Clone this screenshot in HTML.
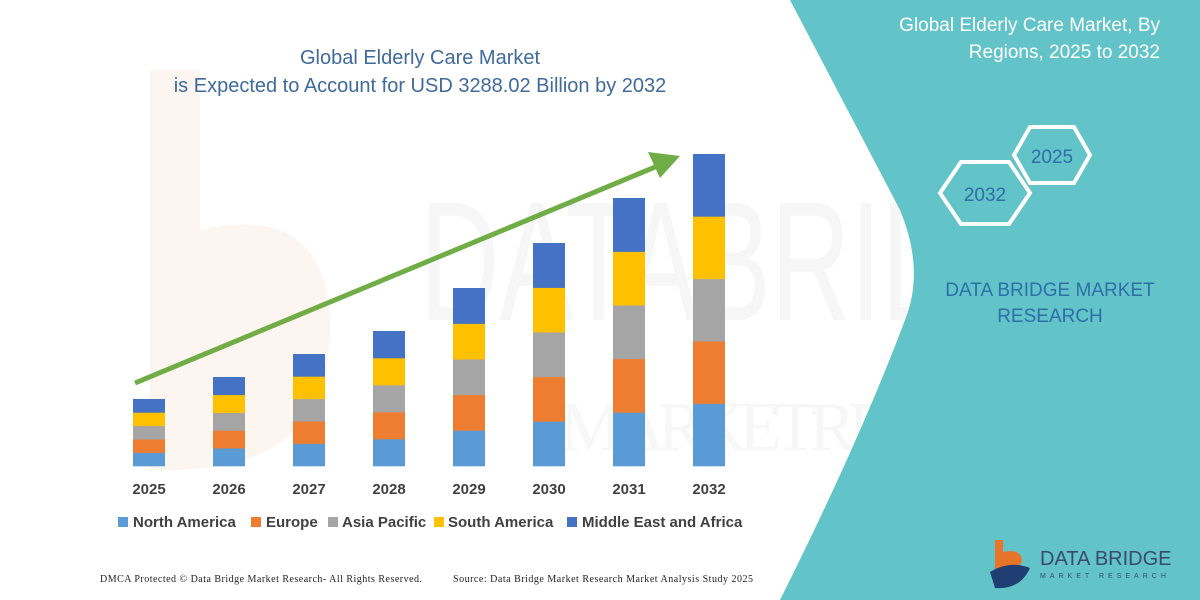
<!DOCTYPE html>
<html><head><meta charset="utf-8"><style>
body{margin:0;width:1200px;height:600px;overflow:hidden;background:#fff;font-family:"Liberation Sans",sans-serif;}
</style></head><body>
<svg width="1200" height="600" xmlns="http://www.w3.org/2000/svg" style="position:absolute;left:0;top:0">
<rect width="1200" height="600" fill="#fff"/>
<!-- watermark -->
<text x="420" y="320" font-size="170" fill="#f6f6f6" font-family="Liberation Sans" textLength="700" lengthAdjust="spacingAndGlyphs">DATABRIDGE</text>
<text x="560" y="450" font-size="70" fill="#f7f7f7" font-family="Liberation Serif" textLength="560" lengthAdjust="spacing">MARKETRESEARCH</text>
<path d="M150 70 L200 70 L200 230 Q330 200 330 330 Q330 470 170 470 L150 470 Z" fill="#fdf5f0"/>
<path d="M790 0 L1200 0 L1200 600 L780 600 Q860 440 905 320 Q925 270 900 210 Z" fill="#62c3c8"/>
<text x="1160" y="31" font-size="19" fill="#fff" text-anchor="end">Global Elderly Care Market, By</text>
<text x="1160" y="58" font-size="19" fill="#fff" text-anchor="end">Regions, 2025 to 2032</text>
<polygon points="1030,127 1074,127 1090,155 1074,183 1030,183 1014,155" fill="none" stroke="#fff" stroke-width="4"/>
<text x="1052" y="163" font-size="19" fill="#2f6ea8" text-anchor="middle">2025</text>
<polygon points="961,162 1009,162 1030,193 1009,224 961,224 940,193" fill="none" stroke="#fff" stroke-width="4"/>
<text x="985" y="201" font-size="19" fill="#2f6ea8" text-anchor="middle">2032</text>
<text x="1050" y="296" font-size="19" fill="#2f6ea8" text-anchor="middle">DATA BRIDGE MARKET</text>
<text x="1050" y="322" font-size="19" fill="#2f6ea8" text-anchor="middle">RESEARCH</text>
<!-- logo -->
<path d="M995 540 L1003 540 L1003 552 Q1020 548 1022 560 Q1020 572 1003 572 L995 572 Z" fill="#e8742a"/>
<path d="M990 572 Q1010 560 1030 568 Q1020 590 995 588 Z" fill="#1f3e74"/>
<text x="1040" y="565" font-size="20" fill="#3a4a6a">DATA BRIDGE</text>
<text x="1040" y="578" font-size="7" fill="#3a4a6a" letter-spacing="4">MARKET RESEARCH</text>
<!-- title -->
<text x="420" y="64" font-size="20" fill="#3f6a9c" text-anchor="middle">Global Elderly Care Market</text>
<text x="420" y="92" font-size="20" fill="#3f6a9c" text-anchor="middle">is Expected to Account for USD 3288.02 Billion by 2032</text>
<g id="bars"></g>
<line x1="135" y1="383" x2="660" y2="165" stroke="#70ad47" stroke-width="5"/>
<polygon points="680,156 648,152 660,178" fill="#70ad47"/>
<g font-size="15" font-weight="bold" fill="#404040" text-anchor="middle">
<text x="149" y="494">2025</text><text x="229" y="494">2026</text><text x="309" y="494">2027</text><text x="389" y="494">2028</text>
<text x="469" y="494">2029</text><text x="549" y="494">2030</text><text x="629" y="494">2031</text><text x="709" y="494">2032</text>
</g>
<g font-size="15" font-weight="bold" fill="#404040">
<rect x="118" y="517" width="10" height="10" fill="#5b9bd5"/><text x="133" y="527">North America</text>
<rect x="251" y="517" width="10" height="10" fill="#ed7d31"/><text x="266" y="527">Europe</text>
<rect x="328" y="517" width="10" height="10" fill="#a5a5a5"/><text x="342" y="527">Asia Pacific</text>
<rect x="434" y="517" width="10" height="10" fill="#ffc000"/><text x="448" y="527">South America</text>
<rect x="567" y="517" width="10" height="10" fill="#4472c4"/><text x="582" y="527">Middle East and Africa</text>
</g>
<text x="100" y="582" font-size="10" fill="#222" font-family="Liberation Serif" textLength="322">DMCA Protected © Data Bridge Market Research-  All Rights Reserved.</text>
<text x="453" y="582" font-size="10" fill="#222" font-family="Liberation Serif" textLength="300">Source: Data Bridge Market Research  Market Analysis Study 2025</text>
</svg>
<script>
var tops=[399,377,354,331,288,243,198,154],cols=["#5b9bd5","#ed7d31","#a5a5a5","#ffc000","#4472c4"],g=document.getElementById("bars"),s="";
for(var i=0;i<8;i++){var cx=149+80*i,h=(466-tops[i])/5;for(var j=0;j<5;j++){var y=466-h*(j+1);s+='<rect x="'+(cx-16)+'" y="'+y+'" width="32" height="'+(h+0.3)+'" fill="'+cols[j]+'"/>';}}
g.innerHTML=s;
</script>
</body></html>
